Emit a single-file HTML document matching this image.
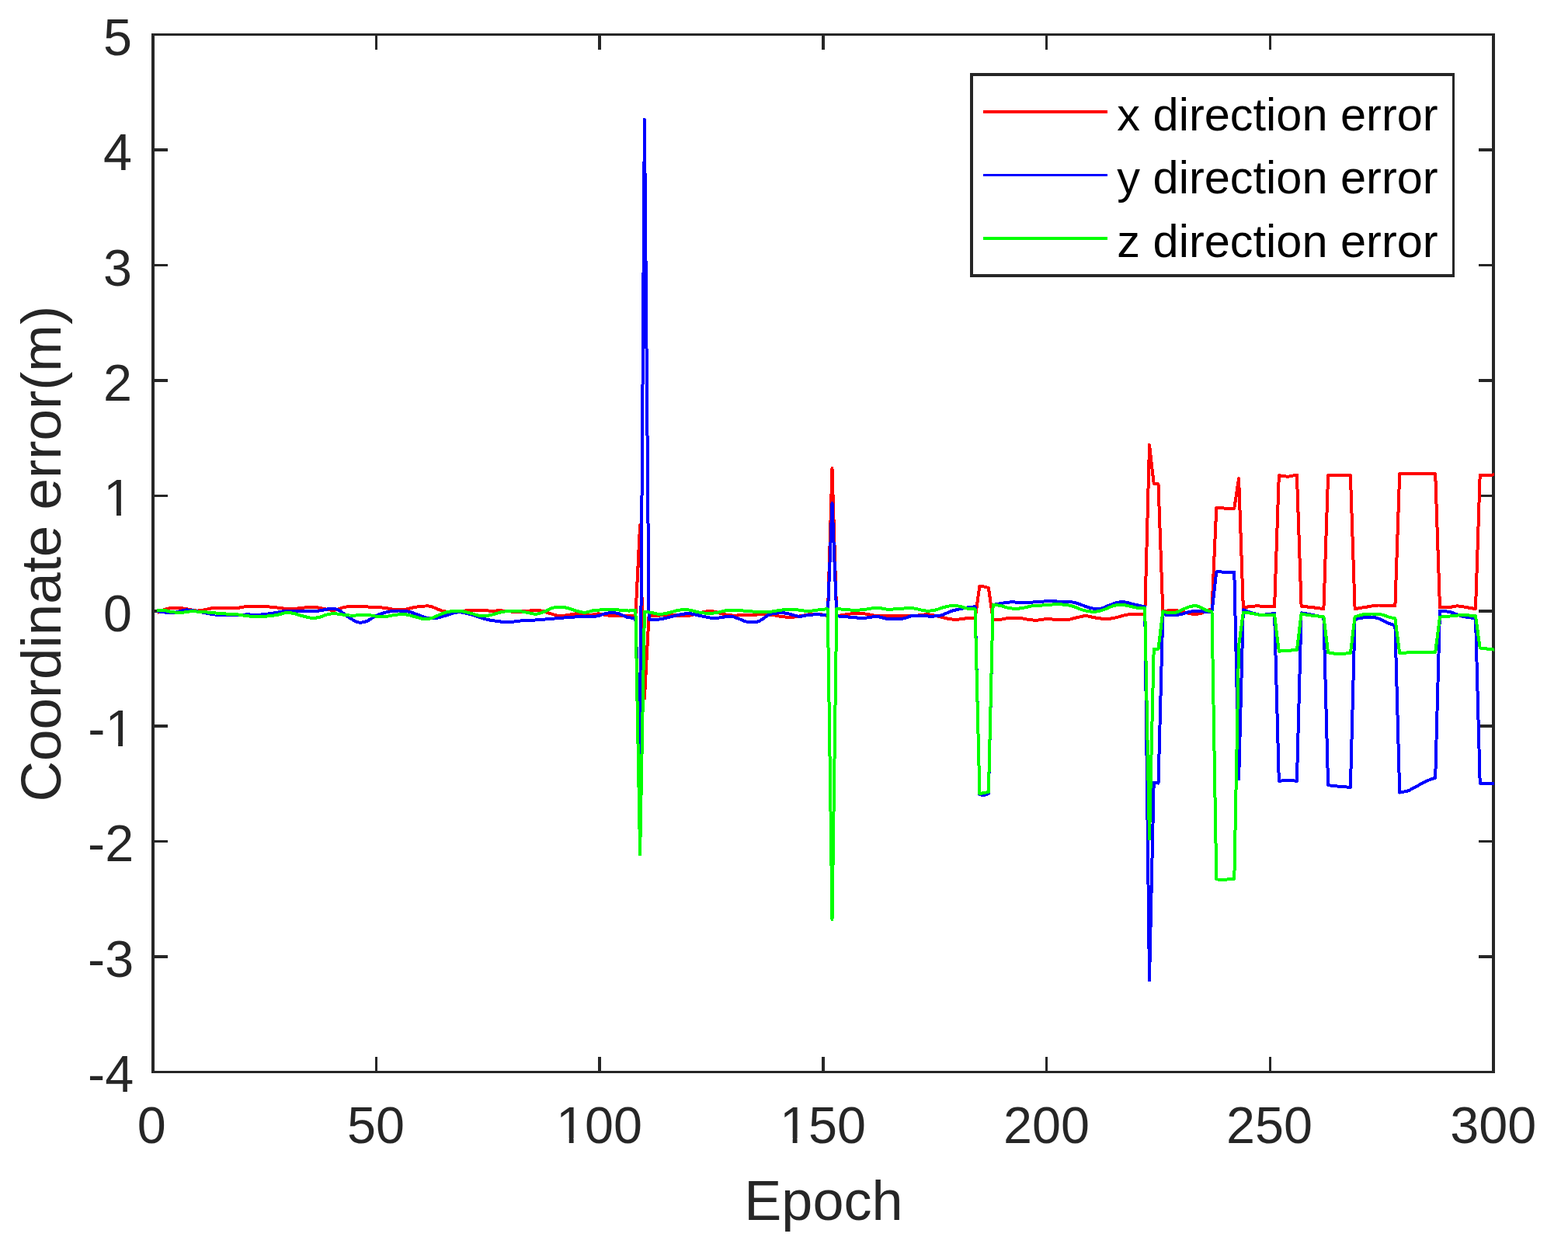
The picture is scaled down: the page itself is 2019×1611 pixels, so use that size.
<!DOCTYPE html>
<html lang="en">
<head>
<meta charset="utf-8">
<title>Coordinate error per epoch</title>
<style>
html,body{margin:0;padding:0;background:#fff;}
body{width:2019px;height:1611px;overflow:hidden;}
svg{display:block;}
text{font-family:"Liberation Sans",sans-serif;}
.t{font-size:66.5px;fill:#262626;}
.l{font-size:72px;fill:#262626;}
.yl{font-size:72.75px;fill:#262626;}
.g{font-size:59.5px;fill:#000;}
.m{fill:#fff;}
.ax rect{fill:#262626;}
.d polyline{fill:none;stroke-width:4;stroke-linejoin:round;stroke-linecap:butt;}
</style>
</head>
<body>
<svg width="2019" height="1611" viewBox="0 0 2019 1611" role="img" aria-label="Coordinate error versus epoch">
<rect x="0" y="0" width="2019" height="1611" fill="#fff"/>
<!-- axes box and tick marks -->
<g class="ax" shape-rendering="crispEdges">
<rect x="195" y="43" width="1730" height="3"/>
<rect x="195" y="1379" width="1730" height="3"/>
<rect x="195" y="43" width="4" height="1339"/>
<rect x="1921" y="43" width="4" height="1339"/>
<rect x="483" y="1361" width="3" height="18"/>
<rect x="483" y="46" width="3" height="18"/>
<rect x="770" y="1361" width="4" height="18"/>
<rect x="770" y="46" width="4" height="18"/>
<rect x="1058" y="1361" width="4" height="18"/>
<rect x="1058" y="46" width="4" height="18"/>
<rect x="1346" y="1361" width="3" height="18"/>
<rect x="1346" y="46" width="3" height="18"/>
<rect x="1634" y="1361" width="3" height="18"/>
<rect x="1634" y="46" width="3" height="18"/>
<rect x="199" y="191" width="17" height="4"/>
<rect x="1904" y="191" width="17" height="4"/>
<rect x="199" y="340" width="17" height="3"/>
<rect x="1904" y="340" width="17" height="3"/>
<rect x="199" y="488" width="17" height="4"/>
<rect x="1904" y="488" width="17" height="4"/>
<rect x="199" y="637" width="17" height="3"/>
<rect x="1904" y="637" width="17" height="3"/>
<rect x="199" y="785" width="17" height="4"/>
<rect x="1904" y="785" width="17" height="4"/>
<rect x="199" y="933" width="17" height="4"/>
<rect x="1904" y="933" width="17" height="4"/>
<rect x="199" y="1082" width="17" height="3"/>
<rect x="1904" y="1082" width="17" height="3"/>
<rect x="199" y="1230" width="17" height="4"/>
<rect x="1904" y="1230" width="17" height="4"/>
</g>
<!-- data series: x (red), y (blue), z (green) -->
<g class="d" shape-rendering="crispEdges">
<polyline points="202.5,789.2 204.4,788.2 206.3,787.3 208.3,786.3 210.3,785.5 212.3,784.7 214.1,784.2 216.0,783.8 217.9,783.4 219.7,783.1 221.6,782.9 223.4,782.8 225.3,782.8 227.1,782.8 229.0,782.8 230.9,782.9 232.7,783.0 234.6,783.3 236.6,783.6 238.5,783.9 240.5,784.3 242.5,784.7 244.5,785.1 246.5,785.5 248.7,785.8 250.9,786.2 253.2,786.5 255.4,786.5 257.6,786.3 259.8,785.9 262.1,785.5 264.3,785.0 266.3,784.6 268.3,784.2 270.2,783.8 272.2,783.4 274.2,783.0 276.2,782.8 278.2,782.7 280.1,782.6 282.1,782.6 284.1,782.6 286.1,782.7 288.1,782.7 290.0,782.8 292.0,782.8 294.0,782.8 296.0,782.8 298.0,782.9 300.0,782.9 301.9,782.9 303.9,782.9 305.9,782.8 307.9,782.6 309.9,782.3 311.8,781.9 313.8,781.5 315.8,781.2 317.8,781.0 319.9,780.9 321.9,780.9 324.0,780.8 326.1,780.8 328.2,780.8 330.3,780.8 332.3,780.9 334.4,780.9 336.5,781.0 338.6,781.0 340.7,781.1 342.8,781.2 345.0,781.3 347.1,781.5 349.2,781.7 351.3,781.9 353.4,782.1 355.4,782.3 357.4,782.6 359.4,782.9 361.4,783.2 363.4,783.4 365.3,783.5 367.3,783.6 369.3,783.7 371.3,783.8 373.3,783.8 375.2,783.8 377.2,783.8 379.2,783.7 381.2,783.6 383.2,783.5 385.3,783.4 387.4,783.1 389.5,782.8 391.7,782.5 393.8,782.2 395.9,781.9 398.0,781.8 400.3,781.7 402.5,781.7 404.7,781.8 406.9,782.1 408.9,782.4 410.9,782.7 412.9,783.1 414.9,783.5 416.8,783.9 418.8,784.3 420.8,784.6 422.8,785.0 424.8,785.4 426.8,785.7 428.7,785.8 430.7,785.8 432.7,785.4 434.7,784.8 436.7,784.1 438.6,783.3 440.6,782.6 442.6,782.1 444.6,781.7 446.6,781.4 448.5,781.2 450.5,781.1 452.5,781.0 454.5,780.9 456.5,780.8 458.4,780.8 460.4,780.7 462.4,780.8 464.4,780.8 466.4,780.9 468.4,781.0 470.3,781.1 472.3,781.3 474.3,781.5 476.3,781.6 478.3,781.8 480.0,781.8 482.1,781.9 484.2,782.0 486.4,782.1 488.5,782.3 490.6,782.4 492.7,782.6 494.9,782.8 496.8,783.1 498.8,783.4 500.8,783.8 502.8,784.2 504.8,784.5 506.7,784.7 508.9,784.9 511.0,785.0 513.1,785.0 515.2,785.1 517.4,785.0 519.5,784.9 521.6,784.7 523.6,784.4 525.6,784.0 527.5,783.5 529.5,783.0 531.5,782.5 533.5,782.1 535.5,781.7 537.5,781.4 539.4,781.1 541.4,780.9 543.4,780.7 545.4,780.6 547.6,780.5 549.8,780.4 552.1,780.5 554.3,780.9 556.5,781.5 558.8,782.4 561.0,783.4 563.2,784.3 565.4,785.1 567.7,786.0 569.9,786.8 572.1,787.3 574.2,787.6 576.4,787.8 578.5,787.9 580.6,788.0 582.7,788.1 584.9,788.0 587.0,788.0 589.0,787.9 590.9,787.7 592.9,787.4 594.9,787.1 596.9,786.8 598.9,786.5 600.9,786.3 602.8,786.1 604.8,785.8 606.8,785.7 608.8,785.5 610.8,785.5 612.7,785.5 614.7,785.6 616.7,785.7 618.7,785.9 620.7,786.0 622.6,786.2 624.6,786.3 626.6,786.4 628.6,786.5 630.7,786.6 632.7,786.6 634.8,786.5 636.9,786.5 639.0,786.5 641.1,786.4 643.2,786.4 645.2,786.4 647.3,786.5 649.4,786.5 651.5,786.7 653.6,786.9 655.8,787.2 657.9,787.5 660.0,787.7 662.1,787.9 664.2,788.0 666.2,788.0 668.2,787.8 670.2,787.7 672.2,787.5 674.2,787.3 676.1,787.0 678.1,786.8 680.1,786.6 682.1,786.5 684.2,786.4 686.3,786.3 688.4,786.2 690.6,786.2 692.7,786.2 694.8,786.3 696.9,786.5 698.9,786.9 700.9,787.5 702.9,788.2 704.9,788.9 706.8,789.6 708.8,790.2 710.8,790.8 712.8,791.4 714.8,792.0 716.8,792.6 718.7,793.0 720.7,793.2 722.7,793.2 724.7,793.0 726.7,792.7 728.6,792.4 730.6,792.0 732.6,791.7 734.6,791.4 736.6,791.1 738.5,790.8 740.5,790.5 742.5,790.3 744.5,790.2 746.5,790.3 748.4,790.6 750.4,790.9 752.4,791.3 754.4,791.6 756.4,791.7 758.4,791.7 760.3,791.7 762.3,791.6 764.3,791.4 766.3,791.2 768.3,791.0 770.0,790.2 772.1,790.5 774.2,790.9 776.4,791.3 778.5,791.7 780.6,792.1 782.7,792.5 784.9,792.8 787.0,792.9 789.1,793.1 791.2,793.2 793.3,793.2 795.5,793.2 797.6,793.2 799.7,793.2 801.8,793.2 803.9,793.1 805.9,793.0 808.0,793.0 810.1,792.9 812.1,792.8 814.2,792.7 816.3,792.6 818.4,792.5 824.1,676.1 829.9,899.5 835.6,792.5 837.7,792.5 839.8,792.5 841.9,792.5 844.0,792.5 846.1,792.5 848.1,792.5 850.2,792.5 852.4,792.4 854.5,792.2 856.6,792.1 858.7,791.9 860.9,791.8 863.0,791.7 865.1,791.7 867.1,791.9 869.1,792.1 871.0,792.5 873.0,792.8 875.0,793.1 877.0,793.2 879.0,793.2 880.9,793.2 882.9,793.1 884.9,793.0 886.9,792.7 888.9,792.5 890.9,792.1 892.8,791.6 894.8,791.1 896.8,790.5 898.8,790.0 900.8,789.5 902.8,789.0 904.9,788.4 907.0,788.0 909.1,787.5 911.2,787.3 913.4,787.1 915.6,787.2 917.8,787.4 920.1,787.7 922.2,788.2 924.2,788.8 926.3,789.5 928.4,790.1 930.5,790.7 932.5,791.1 934.4,791.5 936.4,791.8 938.4,792.1 940.4,792.3 942.4,792.5 944.5,792.5 946.6,792.5 948.7,792.5 950.9,792.4 953.0,792.3 955.1,792.2 957.2,792.2 959.3,792.1 961.5,792.1 963.6,792.0 965.7,791.9 967.8,791.9 970.0,791.8 972.1,791.7 974.1,791.6 976.0,791.4 978.0,791.3 980.0,791.1 982.0,791.0 984.0,791.0 985.9,791.1 987.9,791.2 989.9,791.4 991.9,791.6 993.9,791.9 995.9,792.2 997.8,792.5 999.8,792.9 1001.8,793.3 1003.8,793.6 1005.8,794.0 1007.7,794.2 1009.7,794.4 1011.7,794.6 1013.7,794.7 1015.7,794.7 1017.6,794.7 1019.6,794.7 1021.6,794.6 1023.6,794.4 1025.6,794.1 1027.6,793.8 1029.5,793.5 1031.5,793.2 1033.5,792.9 1035.5,792.4 1037.5,792.0 1039.4,791.6 1041.4,791.2 1043.4,791.0 1045.4,790.8 1047.4,790.7 1049.3,790.7 1051.3,790.7 1053.3,790.8 1055.3,791.0 1057.4,791.3 1059.5,791.7 1061.6,792.2 1063.7,792.7 1065.8,793.2 1071.5,603.1 1077.3,793.2 1079.2,792.9 1081.0,792.6 1082.9,792.4 1084.8,792.1 1086.7,791.8 1088.6,791.5 1090.5,791.3 1092.4,791.0 1094.3,790.7 1096.3,790.3 1098.2,790.0 1100.1,789.8 1102.0,789.6 1103.9,789.5 1105.8,789.5 1107.7,789.7 1109.6,789.8 1111.5,790.1 1113.4,790.4 1115.4,790.7 1117.3,791.0 1119.2,791.3 1121.2,791.8 1123.2,792.2 1125.2,792.6 1127.2,793.0 1129.2,793.2 1131.3,793.3 1133.4,793.3 1135.5,793.2 1137.6,793.1 1139.8,792.9 1141.9,792.8 1144.0,792.8 1146.0,792.7 1148.0,792.7 1150.0,792.7 1151.9,792.6 1153.9,792.6 1155.9,792.6 1157.9,792.6 1159.9,792.5 1161.8,792.5 1163.8,792.5 1165.8,792.5 1167.8,792.5 1169.9,792.5 1172.0,792.5 1174.2,792.5 1176.3,792.5 1178.4,792.6 1180.5,792.5 1182.6,792.5 1184.6,792.3 1186.6,792.0 1188.6,791.7 1190.6,791.4 1192.6,791.3 1194.5,791.3 1196.7,791.5 1198.8,791.7 1200.9,792.1 1203.0,792.5 1205.1,793.0 1207.3,793.5 1209.4,793.9 1211.4,794.4 1213.4,795.0 1215.3,795.5 1217.3,796.1 1219.3,796.5 1221.3,796.9 1223.3,797.2 1225.2,797.4 1227.2,797.6 1229.2,797.7 1231.2,797.7 1233.2,797.7 1235.1,797.5 1237.1,797.3 1239.1,797.0 1241.1,796.7 1243.1,796.4 1245.1,796.2 1247.2,796.1 1249.3,796.1 1251.4,796.1 1253.5,796.2 1255.6,796.2 1261.4,754.8 1267.1,755.5 1272.9,757.0 1278.6,798.1 1280.8,798.0 1282.9,798.0 1285.0,798.0 1287.2,797.9 1289.3,797.7 1291.4,797.3 1293.5,796.9 1295.6,796.4 1297.6,796.0 1299.7,795.7 1301.7,795.6 1303.7,795.5 1305.7,795.5 1307.6,795.5 1309.6,795.6 1311.6,795.7 1313.6,796.0 1315.6,796.3 1317.5,796.6 1319.5,797.0 1321.5,797.4 1323.5,797.7 1325.6,798.0 1327.7,798.2 1329.7,798.5 1331.8,798.7 1333.9,798.7 1335.8,798.6 1337.7,798.4 1339.6,798.1 1341.5,797.9 1343.4,797.6 1345.4,797.4 1347.3,797.2 1349.2,797.2 1351.2,797.2 1353.2,797.3 1355.2,797.5 1357.2,797.6 1359.2,797.7 1361.3,797.8 1363.4,797.9 1365.5,798.0 1367.6,798.2 1369.8,798.2 1371.9,798.2 1374.0,798.1 1376.0,797.9 1378.0,797.5 1380.0,797.0 1381.9,796.4 1383.9,795.9 1385.9,795.4 1387.9,795.0 1389.9,794.5 1391.8,794.0 1393.8,793.6 1395.8,793.3 1397.8,793.2 1399.8,793.3 1401.7,793.7 1403.7,794.1 1405.7,794.6 1407.7,795.1 1409.7,795.4 1411.8,795.7 1413.9,796.0 1416.0,796.3 1418.2,796.6 1420.3,796.7 1422.4,796.9 1424.5,796.9 1426.5,796.9 1428.5,796.7 1430.5,796.5 1432.5,796.2 1434.4,795.8 1436.4,795.4 1438.4,795.0 1440.4,794.4 1442.4,793.8 1444.3,793.2 1446.3,792.6 1448.3,792.2 1450.2,791.8 1452.1,791.5 1454.0,791.3 1455.9,791.0 1457.9,790.9 1459.8,790.7 1461.7,790.7 1463.8,790.7 1465.9,790.8 1468.0,791.0 1470.1,791.3 1472.1,791.5 1474.2,791.7 1480.0,573.0 1485.7,622.8 1491.5,623.4 1497.3,787.3 1499.4,787.0 1501.4,786.8 1503.5,786.5 1505.6,786.3 1507.7,786.2 1509.7,786.2 1511.7,786.2 1513.7,786.3 1515.7,786.4 1517.6,786.6 1519.6,786.8 1521.9,787.3 1524.1,787.9 1526.3,788.6 1528.5,789.2 1530.8,789.8 1533.0,790.3 1535.2,790.8 1537.5,791.0 1539.7,791.0 1541.9,790.7 1544.1,790.4 1546.4,789.8 1548.6,789.0 1550.8,787.9 1553.1,786.8 1555.3,785.8 1557.0,785.2 1558.8,784.7 1560.5,784.3 1566.3,653.9 1577.8,654.6 1583.6,655.3 1589.3,654.6 1595.1,616.0 1600.8,782.1 1602.7,781.9 1604.7,781.7 1606.6,781.5 1608.5,781.2 1610.4,781.0 1612.4,780.8 1614.3,780.6 1616.2,780.5 1618.1,780.4 1620.2,780.4 1622.2,780.5 1624.3,780.7 1626.3,780.9 1628.4,781.1 1630.4,781.3 1632.6,781.3 1634.7,781.3 1636.8,781.3 1639.0,781.3 1641.1,781.3 1646.8,612.2 1658.3,613.8 1669.9,611.6 1675.6,780.8 1677.6,780.9 1679.5,781.1 1681.5,781.3 1683.5,781.5 1685.4,781.7 1687.4,781.9 1689.4,782.1 1691.2,782.3 1693.1,782.6 1695.0,782.8 1696.9,783.1 1698.7,783.3 1700.6,783.6 1702.5,783.9 1704.4,784.1 1710.1,612.3 1738.9,612.3 1744.6,784.1 1746.5,783.8 1748.5,783.5 1750.4,783.2 1752.3,782.8 1754.2,782.5 1756.1,782.2 1758.0,781.9 1759.9,781.6 1761.8,781.3 1763.7,780.9 1765.7,780.6 1767.7,780.2 1769.6,779.9 1771.6,779.7 1773.6,779.6 1775.6,779.5 1777.7,779.5 1779.8,779.5 1781.9,779.6 1784.0,779.6 1786.0,779.7 1788.1,779.8 1790.2,779.9 1792.3,780.0 1794.3,780.0 1796.4,780.1 1802.2,610.1 1848.2,610.1 1854.0,782.4 1855.9,782.4 1857.9,782.3 1859.9,782.2 1861.9,782.1 1863.9,782.0 1865.9,781.9 1867.9,781.8 1869.7,781.5 1871.6,781.2 1873.4,780.8 1875.3,780.5 1877.1,780.4 1879.3,780.6 1881.5,780.9 1883.7,781.3 1885.9,781.7 1888.1,782.1 1890.1,782.4 1892.0,782.8 1894.0,783.1 1896.0,783.4 1898.0,783.8 1900.0,784.1 1905.7,611.9 1917.2,611.9 1923.0,611.4 1924.0,611.4" stroke="#ff0000"/>
<polyline points="201.9,787.3 203.7,787.4 205.6,787.6 207.5,787.8 209.3,788.0 211.4,788.3 213.5,788.7 215.6,789.1 217.6,789.4 219.7,789.5 221.9,789.3 224.2,789.0 226.4,788.5 228.6,788.0 230.7,787.5 232.8,786.9 234.9,786.3 237.0,785.8 239.0,785.5 241.1,785.4 243.2,785.6 245.3,785.9 247.4,786.2 249.4,786.5 251.4,786.8 253.4,787.2 255.4,787.6 257.4,788.0 259.3,788.4 261.3,788.7 263.3,789.1 265.3,789.5 267.3,790.0 269.2,790.3 271.2,790.7 273.2,791.0 275.3,791.2 277.5,791.5 279.6,791.7 281.7,791.8 283.8,792.0 285.9,792.1 288.1,792.2 290.0,792.2 292.0,792.3 294.0,792.3 296.0,792.3 298.0,792.3 300.0,792.3 301.9,792.3 303.9,792.2 305.9,792.2 307.9,792.1 309.9,791.9 311.8,791.8 313.8,791.6 315.8,791.5 317.8,791.4 319.9,791.4 322.0,791.5 324.2,791.6 326.3,791.7 328.4,791.8 330.5,791.8 332.6,791.7 334.6,791.6 336.6,791.5 338.6,791.3 340.6,791.1 342.6,790.8 344.5,790.6 346.5,790.3 348.5,790.1 350.5,789.8 352.6,789.5 354.7,789.1 356.8,788.7 359.0,788.3 361.1,787.9 363.2,787.5 365.3,787.3 367.3,787.1 369.3,786.9 371.3,786.8 373.3,786.7 375.2,786.6 377.2,786.6 379.2,786.5 381.2,786.5 383.2,786.5 385.3,786.6 387.4,786.7 389.5,786.8 391.7,787.0 393.8,787.1 395.9,787.2 398.0,787.3 400.1,787.2 402.3,787.1 404.4,787.0 406.5,786.9 408.6,786.7 410.8,786.5 412.9,786.2 414.8,785.9 416.7,785.5 418.6,785.1 420.5,784.7 422.4,784.3 424.3,784.0 426.3,783.8 428.5,783.8 430.7,784.0 432.9,784.5 435.2,785.3 437.3,786.4 439.3,787.8 441.4,789.4 443.5,791.0 445.6,792.5 447.7,793.9 449.7,795.3 451.8,796.7 453.9,798.0 456.0,799.2 457.8,800.1 459.7,800.9 461.5,801.4 463.4,801.7 465.6,801.6 467.9,801.3 470.1,800.7 472.3,799.9 474.5,798.8 476.8,797.5 479.0,796.0 481.2,794.7 483.2,793.7 485.1,792.7 487.0,791.8 488.9,791.0 490.9,790.3 492.9,789.6 494.9,789.1 496.8,788.5 498.8,788.1 500.8,787.7 502.9,787.4 505.0,787.1 507.2,786.9 509.3,786.7 511.4,786.6 513.5,786.5 515.7,786.5 517.6,786.6 519.6,786.7 521.6,786.9 523.6,787.2 525.6,787.6 527.5,788.0 529.5,788.5 531.5,789.2 533.5,789.9 535.5,790.7 537.5,791.4 539.4,792.2 541.7,793.0 543.9,794.0 546.1,794.8 548.4,795.4 550.3,795.8 552.3,796.1 554.3,796.2 556.3,796.3 558.3,796.3 560.2,796.2 562.2,795.9 564.2,795.5 566.2,795.0 568.2,794.4 570.1,793.8 572.1,793.2 574.1,792.6 576.1,792.0 578.1,791.3 580.0,790.6 582.0,790.0 584.0,789.5 586.2,789.0 588.5,788.5 590.7,788.3 592.9,788.3 595.0,788.6 597.2,788.9 599.3,789.4 601.4,789.9 603.5,790.5 605.7,791.1 607.8,791.7 609.9,792.4 612.0,793.1 614.2,793.8 616.3,794.6 618.4,795.3 620.5,796.0 622.6,796.6 624.8,797.2 626.9,797.7 629.0,798.1 631.1,798.6 633.3,798.9 635.4,799.3 637.5,799.6 639.5,799.9 641.5,800.1 643.4,800.4 645.4,800.6 647.4,800.8 649.4,800.9 651.4,801.0 653.4,801.1 655.3,801.1 657.3,801.0 659.3,800.9 661.3,800.6 663.3,800.4 665.2,800.1 667.2,799.8 669.2,799.6 671.2,799.3 673.2,799.2 675.1,799.0 677.1,798.9 679.1,798.8 681.1,798.8 683.1,798.7 685.1,798.7 687.0,798.6 689.0,798.5 691.0,798.4 693.0,798.3 695.0,798.1 696.9,798.0 698.9,797.8 700.9,797.6 702.9,797.4 704.9,797.3 706.8,797.1 708.8,796.9 710.8,796.8 712.8,796.6 714.8,796.4 716.8,796.2 718.7,796.1 720.7,795.9 722.7,795.7 724.7,795.6 726.7,795.4 728.6,795.3 730.6,795.1 732.6,795.0 734.6,794.9 736.6,794.7 738.5,794.6 740.5,794.5 742.5,794.4 744.5,794.2 746.5,794.2 748.4,794.1 750.4,794.0 752.4,794.0 754.4,793.9 756.4,793.8 758.4,793.8 760.3,793.7 762.3,793.7 764.2,793.6 766.2,793.6 768.1,793.5 770.0,793.2 772.2,792.6 774.5,791.7 776.7,790.9 778.9,790.2 781.1,789.8 783.4,789.5 785.6,789.3 787.8,789.2 790.1,789.2 792.3,789.4 794.5,789.7 796.7,790.2 798.8,791.0 800.9,792.0 803.0,793.0 805.1,794.0 807.1,794.7 809.0,795.1 810.9,795.4 812.8,795.6 814.6,795.8 816.5,796.0 818.4,796.2 824.1,983.7 829.9,153.9 835.6,797.7 837.6,797.7 839.5,797.7 841.4,797.8 843.4,797.8 845.3,797.8 847.3,797.7 849.5,797.4 851.7,797.1 854.0,796.6 856.2,796.2 858.2,795.7 860.1,795.2 862.1,794.7 864.1,794.2 866.1,793.7 868.1,793.2 870.0,792.7 872.0,792.3 874.0,791.8 876.0,791.4 878.0,791.0 880.0,790.7 882.2,790.4 884.4,790.2 886.6,790.1 888.9,790.2 891.1,790.6 893.3,791.1 895.6,791.6 897.8,792.2 899.8,792.6 901.7,793.0 903.7,793.5 905.7,793.9 907.7,794.3 909.7,794.7 911.8,795.1 913.8,795.5 915.9,795.8 918.0,796.1 920.1,796.2 922.2,796.1 924.2,795.8 926.3,795.4 928.4,795.0 930.5,794.7 932.5,794.5 934.4,794.2 936.4,794.0 938.4,793.9 940.4,793.8 942.4,793.9 944.6,794.4 946.8,795.2 949.0,796.1 951.3,796.9 953.4,797.7 955.4,798.6 957.5,799.4 959.6,800.2 961.7,800.6 963.6,800.9 965.5,801.1 967.4,801.2 969.3,801.2 971.2,801.1 973.1,800.9 975.1,800.6 976.9,800.1 978.8,799.2 980.6,798.1 982.5,796.9 984.3,795.6 986.2,794.2 988.1,792.8 989.9,791.7 992.1,790.9 994.4,790.4 996.6,790.1 998.8,789.8 1001.1,789.5 1003.3,789.3 1005.5,789.2 1007.7,789.2 1010.0,789.4 1012.2,789.8 1014.4,790.2 1016.7,790.7 1018.6,791.2 1020.6,791.8 1022.6,792.4 1024.6,793.0 1026.6,793.4 1028.5,793.7 1030.5,793.7 1032.5,793.5 1034.5,793.2 1036.5,792.8 1038.4,792.4 1040.4,792.2 1042.4,792.0 1044.4,791.7 1046.4,791.6 1048.4,791.4 1050.3,791.3 1052.3,791.3 1054.2,791.3 1056.2,791.5 1058.1,791.6 1060.0,791.8 1061.9,792.1 1063.8,792.3 1065.8,792.5 1071.5,648.1 1077.3,793.2 1079.2,793.4 1081.2,793.6 1083.1,793.7 1085.1,793.9 1087.1,794.1 1089.0,794.2 1090.9,794.4 1092.9,794.6 1094.8,794.8 1096.7,795.0 1098.6,795.2 1100.5,795.3 1102.4,795.4 1104.4,795.6 1106.4,795.7 1108.4,795.8 1110.3,795.8 1112.3,795.8 1114.3,795.7 1116.4,795.5 1118.5,795.2 1120.7,794.9 1122.8,794.5 1124.9,794.2 1127.0,794.0 1129.2,793.9 1131.1,794.2 1133.1,794.6 1135.1,795.2 1137.1,795.7 1139.1,796.3 1141.0,796.6 1143.0,796.8 1145.0,796.9 1147.0,797.0 1149.0,797.0 1150.9,797.0 1152.9,796.9 1154.9,796.9 1156.9,796.9 1158.9,796.8 1160.9,796.7 1162.8,796.5 1164.8,796.2 1167.0,795.5 1169.3,794.6 1171.5,793.8 1173.7,793.2 1175.9,793.0 1178.0,792.9 1180.1,792.9 1182.2,793.0 1184.3,793.1 1186.5,793.1 1188.6,793.2 1190.6,793.3 1192.6,793.4 1194.5,793.5 1196.5,793.6 1198.5,793.7 1200.5,793.7 1202.5,793.6 1204.4,793.4 1206.4,793.2 1208.4,793.0 1210.4,792.6 1212.4,792.2 1214.3,791.5 1216.3,790.7 1218.3,789.8 1220.3,788.9 1222.3,788.0 1224.2,787.3 1226.2,786.6 1228.2,786.1 1230.2,785.6 1232.2,785.2 1234.2,784.7 1236.1,784.3 1238.1,783.9 1240.1,783.5 1242.1,783.1 1244.1,782.7 1246.0,782.4 1248.0,782.1 1249.9,781.8 1251.8,781.6 1253.7,781.5 1255.6,781.3 1261.4,1023.2 1267.1,1024.2 1272.9,1022.0 1278.6,779.1 1280.8,778.6 1282.9,778.1 1285.0,777.7 1287.2,777.2 1289.3,776.9 1291.2,776.6 1293.1,776.3 1295.0,776.0 1297.0,775.8 1298.9,775.6 1300.8,775.4 1302.7,775.4 1304.8,775.4 1306.9,775.5 1309.1,775.8 1311.2,776.0 1313.3,776.2 1315.4,776.4 1317.5,776.4 1319.7,776.4 1321.8,776.3 1323.9,776.1 1326.0,775.9 1328.2,775.7 1330.3,775.5 1332.4,775.4 1334.5,775.2 1336.7,775.1 1338.8,774.9 1340.9,774.7 1343.0,774.6 1345.1,774.4 1347.3,774.3 1349.2,774.3 1351.2,774.2 1353.2,774.2 1355.2,774.2 1357.2,774.3 1359.2,774.3 1361.1,774.5 1363.1,774.6 1365.1,774.8 1367.1,775.0 1369.1,775.2 1371.0,775.4 1373.0,775.4 1375.0,775.4 1377.0,775.4 1379.0,775.4 1380.9,775.5 1382.9,775.8 1384.9,776.3 1386.9,776.9 1388.9,777.6 1390.9,778.4 1392.8,779.1 1394.8,779.8 1396.8,780.5 1398.8,781.2 1400.8,781.9 1402.7,782.5 1404.7,783.1 1406.7,783.5 1408.9,784.0 1411.2,784.4 1413.4,784.5 1415.6,784.3 1417.6,783.8 1419.6,783.1 1421.6,782.3 1423.5,781.5 1425.5,780.6 1427.5,779.8 1429.6,779.0 1431.7,778.2 1433.7,777.4 1435.8,776.7 1437.9,776.1 1440.0,775.7 1442.1,775.4 1444.1,775.3 1446.2,775.2 1448.3,775.4 1450.3,775.7 1452.3,776.1 1454.2,776.7 1456.2,777.3 1458.2,777.8 1460.2,778.3 1462.2,778.8 1464.2,779.2 1466.2,779.7 1468.2,780.1 1470.2,780.5 1472.2,780.9 1474.2,781.3 1480.0,1262.3 1485.7,1007.5 1491.5,1008.6 1497.3,791.0 1499.4,791.3 1501.4,791.7 1503.5,792.1 1505.6,792.3 1507.7,792.5 1509.7,792.4 1511.7,792.3 1513.7,792.2 1515.7,791.9 1517.6,791.6 1519.6,791.3 1521.6,790.8 1523.6,790.3 1525.6,789.7 1527.6,789.0 1529.5,788.5 1531.5,788.0 1533.5,787.6 1535.5,787.3 1537.5,787.0 1539.4,786.7 1541.4,786.6 1543.4,786.5 1545.6,786.7 1547.9,787.2 1550.1,787.7 1552.3,788.0 1554.4,788.0 1556.4,787.8 1558.5,787.5 1560.5,787.3 1566.3,736.3 1589.3,737.0 1595.1,1003.5 1600.8,785.1 1602.7,785.9 1604.7,786.7 1606.6,787.5 1608.5,788.2 1610.6,788.9 1612.7,789.5 1614.8,790.1 1616.9,790.7 1619.2,791.2 1621.4,791.7 1623.7,791.9 1625.8,791.8 1627.9,791.7 1630.0,791.4 1632.1,791.2 1634.3,790.9 1636.6,790.6 1638.8,790.3 1641.1,790.0 1646.8,1005.7 1658.3,1004.9 1669.9,1005.7 1675.6,789.2 1677.6,789.6 1679.5,789.9 1681.5,790.3 1683.5,790.7 1685.4,791.1 1687.4,791.5 1689.4,791.9 1691.2,792.2 1693.1,792.6 1695.0,792.9 1696.9,793.3 1698.7,793.7 1700.6,794.0 1702.5,794.4 1704.4,794.7 1710.1,1011.2 1727.4,1013.1 1738.9,1013.8 1744.6,797.3 1746.7,796.9 1748.7,796.5 1750.7,796.2 1752.7,795.8 1754.7,795.5 1756.7,795.2 1758.7,795.0 1760.8,794.8 1762.8,794.7 1764.8,794.6 1766.8,794.7 1768.8,795.0 1770.9,795.4 1772.9,795.9 1774.9,796.5 1776.9,797.3 1778.9,798.1 1781.0,799.2 1783.0,800.3 1785.0,801.4 1787.0,802.3 1788.9,803.0 1790.8,803.6 1792.7,804.2 1794.5,804.8 1796.4,805.3 1802.2,1020.7 1813.7,1018.3 1836.7,1005.7 1848.2,1001.5 1854.0,786.8 1856.0,787.0 1858.0,787.1 1860.1,787.2 1862.1,787.4 1864.1,787.6 1866.2,788.0 1868.3,788.5 1870.4,789.2 1872.5,790.0 1874.6,790.7 1876.7,791.5 1878.8,792.3 1880.9,793.0 1883.0,793.6 1885.1,794.0 1887.3,794.5 1889.4,794.8 1891.5,795.2 1893.6,795.5 1895.7,795.8 1897.9,796.1 1900.0,796.4 1905.7,1008.6 1923.0,1009.4 1924.0,1009.4" stroke="#0000ff"/>
<polyline points="201.9,786.2 204.0,786.2 206.0,786.1 208.1,786.1 210.2,786.1 212.3,786.2 214.4,786.5 216.4,787.0 218.5,787.5 220.6,788.0 222.7,788.3 224.7,788.5 226.7,788.7 228.6,788.8 230.6,788.8 232.6,788.8 234.6,788.7 236.6,788.6 238.5,788.3 240.5,788.0 242.5,787.7 244.5,787.4 246.5,787.3 248.7,787.2 250.9,787.4 253.2,787.5 255.4,787.7 257.5,787.8 259.6,788.0 261.7,788.1 263.9,788.3 266.0,788.4 268.1,788.6 270.2,788.7 272.4,788.9 274.5,789.2 276.6,789.4 278.7,789.6 280.9,789.9 283.0,790.1 285.1,790.2 287.1,790.3 289.1,790.4 291.0,790.5 293.0,790.5 295.0,790.6 297.0,790.6 299.0,790.7 300.9,790.8 302.9,791.0 305.0,791.2 307.2,791.5 309.3,791.9 311.4,792.3 313.5,792.6 315.7,793.0 317.8,793.2 319.9,793.4 322.0,793.6 324.2,793.7 326.3,793.8 328.4,793.9 330.5,793.9 332.6,793.9 334.8,793.9 336.9,793.9 339.0,793.8 341.1,793.7 343.3,793.6 345.4,793.4 347.5,793.2 349.5,793.0 351.5,792.7 353.4,792.4 355.4,792.0 357.4,791.7 359.4,791.3 361.6,790.7 363.8,790.1 366.1,789.5 368.3,789.2 370.5,789.1 372.8,789.2 375.0,789.4 377.2,789.8 379.2,790.2 381.2,790.8 383.2,791.4 385.1,792.1 387.1,792.7 389.1,793.2 391.1,793.7 393.1,794.2 395.1,794.7 397.0,795.1 399.0,795.5 401.0,795.7 403.2,795.8 405.5,795.8 407.7,795.5 409.9,795.1 411.9,794.6 413.9,794.0 415.9,793.2 417.8,792.5 419.8,791.8 421.8,791.3 424.0,790.8 426.3,790.5 428.5,790.3 430.7,790.2 432.7,790.3 434.7,790.6 436.7,790.9 438.6,791.2 440.6,791.5 442.6,791.7 444.6,791.9 446.6,792.2 448.5,792.4 450.5,792.6 452.5,792.7 454.5,792.8 456.5,792.7 458.4,792.5 460.4,792.3 462.4,792.0 464.4,791.8 466.4,791.7 468.4,791.7 470.3,791.8 472.3,791.9 474.3,792.1 476.3,792.3 478.3,792.5 480.0,793.2 482.1,793.4 484.2,793.7 486.4,793.9 488.5,794.1 490.6,794.2 492.7,794.3 494.9,794.2 497.0,794.1 499.1,793.7 501.2,793.3 503.3,792.9 505.5,792.4 507.6,792.0 509.7,791.7 511.7,791.5 513.7,791.3 515.7,791.2 517.6,791.1 519.6,791.1 521.6,791.3 523.6,791.5 525.6,791.9 527.5,792.4 529.5,792.9 531.5,793.5 533.5,793.9 535.4,794.4 537.3,795.0 539.2,795.6 541.1,796.1 543.0,796.6 545.0,797.0 546.9,797.2 548.9,797.2 551.0,797.0 553.1,796.6 555.2,796.1 557.3,795.4 559.2,794.7 561.2,793.8 563.2,792.9 565.2,791.9 567.2,791.0 569.2,790.2 571.1,789.6 573.1,789.0 575.1,788.4 577.1,788.0 579.1,787.6 581.0,787.3 583.0,787.0 585.0,786.9 587.0,786.8 589.0,786.8 590.9,786.8 592.9,787.0 594.9,787.2 596.9,787.6 598.9,788.0 600.9,788.5 602.8,789.0 604.8,789.5 606.9,790.0 609.1,790.6 611.2,791.3 613.3,791.9 615.4,792.5 617.6,792.9 619.7,793.2 621.7,793.3 623.6,793.3 625.6,793.1 627.6,792.9 629.6,792.5 631.6,792.2 633.5,791.7 635.5,791.1 637.5,790.5 639.5,789.9 641.5,789.3 643.4,788.7 645.4,788.3 647.4,788.0 649.4,787.6 651.4,787.3 653.4,787.1 655.3,787.0 657.5,786.9 659.6,786.8 661.7,786.8 663.8,786.9 665.9,787.0 668.1,787.1 670.2,787.3 672.2,787.5 674.2,787.9 676.1,788.3 678.1,788.7 680.1,789.1 682.1,789.5 684.3,789.9 686.5,790.4 688.8,790.7 691.0,790.7 693.2,790.3 695.5,789.7 697.7,788.9 699.9,788.0 701.9,787.2 703.9,786.2 705.9,785.2 707.8,784.3 709.8,783.4 711.8,782.8 713.8,782.4 715.8,782.0 717.7,781.8 719.7,781.7 721.7,781.7 723.7,781.8 725.9,782.0 728.1,782.4 730.4,783.0 732.6,783.5 734.6,784.1 736.6,784.8 738.5,785.4 740.5,786.1 742.5,786.7 744.5,787.3 746.7,787.8 748.9,788.4 751.2,788.7 753.4,788.7 755.4,788.5 757.4,788.0 759.3,787.4 761.3,786.8 763.3,786.2 765.3,785.8 767.6,785.7 770.0,785.8 772.2,785.5 774.5,785.2 776.7,784.9 778.9,784.7 781.0,784.6 783.1,784.6 785.2,784.6 787.2,784.7 789.3,784.7 791.4,784.9 793.5,785.1 795.6,785.3 797.6,785.6 799.7,785.8 801.9,786.0 804.2,786.3 806.4,786.4 808.6,786.5 810.6,786.5 812.5,786.3 814.5,786.1 816.4,785.9 818.4,785.8 824.1,1100.4 829.9,788.0 832.0,788.2 834.1,788.3 836.2,788.5 838.4,788.7 840.6,789.2 842.8,789.8 845.0,790.3 847.3,790.7 849.5,790.8 851.7,790.7 854.0,790.5 856.2,790.2 858.4,789.8 860.6,789.2 862.9,788.6 865.1,788.0 867.3,787.4 869.6,786.8 871.8,786.2 874.0,785.8 875.9,785.5 877.7,785.2 879.6,785.1 881.4,785.0 883.3,785.1 885.2,785.2 887.0,785.5 888.9,785.8 890.9,786.2 892.8,786.7 894.8,787.3 896.8,787.9 898.8,788.3 900.8,788.7 902.7,789.1 904.7,789.3 906.7,789.5 908.7,789.6 910.7,789.7 912.6,789.8 914.9,789.8 917.1,789.7 919.3,789.5 921.6,789.2 923.5,788.8 925.5,788.4 927.5,787.9 929.5,787.4 931.5,786.9 933.4,786.5 935.7,786.1 937.9,785.8 940.1,785.6 942.4,785.5 944.3,785.5 946.3,785.6 948.3,785.7 950.3,785.9 952.3,786.1 954.2,786.2 956.2,786.4 958.2,786.6 960.2,786.7 962.2,786.9 964.2,787.1 966.1,787.3 968.1,787.4 970.1,787.6 972.1,787.7 974.1,787.8 976.0,787.9 978.0,788.0 980.0,788.1 982.0,788.1 984.0,788.2 985.9,788.2 987.9,788.1 989.9,788.0 991.9,787.8 993.9,787.5 995.9,787.2 997.8,786.9 999.8,786.5 1001.8,786.2 1003.8,785.9 1005.8,785.7 1007.7,785.4 1009.7,785.1 1011.7,784.9 1013.7,784.7 1015.9,784.6 1018.1,784.6 1020.4,784.6 1022.6,784.7 1024.6,785.0 1026.6,785.3 1028.5,785.6 1030.5,786.0 1032.5,786.3 1034.5,786.5 1036.5,786.6 1038.4,786.7 1040.4,786.7 1042.4,786.7 1044.4,786.6 1046.4,786.5 1048.4,786.3 1050.3,786.0 1052.3,785.7 1054.3,785.3 1056.3,785.0 1058.3,784.7 1060.1,784.6 1062.0,784.5 1063.9,784.4 1065.8,784.3 1071.5,1184.3 1077.3,783.8 1079.2,784.1 1081.2,784.3 1083.1,784.5 1085.1,784.7 1087.1,784.9 1089.0,785.0 1090.9,785.2 1092.9,785.3 1094.8,785.5 1096.7,785.6 1098.6,785.7 1100.5,785.8 1102.4,785.8 1104.4,785.7 1106.4,785.6 1108.4,785.4 1110.3,785.2 1112.3,785.0 1114.3,784.7 1116.4,784.5 1118.5,784.1 1120.7,783.7 1122.8,783.4 1124.9,783.1 1127.0,782.9 1129.2,782.8 1131.3,782.9 1133.4,783.2 1135.5,783.5 1137.6,783.9 1139.8,784.3 1141.9,784.6 1144.0,784.7 1146.0,784.7 1148.0,784.7 1150.0,784.5 1151.9,784.4 1153.9,784.2 1155.9,784.0 1157.9,783.8 1159.9,783.7 1161.8,783.5 1164.0,783.5 1166.1,783.4 1168.2,783.3 1170.3,783.3 1172.5,783.3 1174.6,783.4 1176.7,783.5 1178.8,783.8 1180.9,784.3 1183.1,784.8 1185.2,785.3 1187.3,785.8 1189.4,786.3 1191.6,786.5 1193.5,786.6 1195.5,786.6 1197.5,786.6 1199.5,786.4 1201.5,786.1 1203.4,785.8 1205.4,785.3 1207.4,784.7 1209.4,784.0 1211.4,783.3 1213.4,782.6 1215.3,782.1 1217.3,781.6 1219.3,781.1 1221.3,780.6 1223.3,780.2 1225.2,780.0 1227.2,779.8 1229.3,779.9 1231.4,780.1 1233.5,780.4 1235.5,780.9 1237.6,781.3 1239.7,781.9 1241.8,782.5 1243.9,783.2 1245.9,783.8 1248.0,784.3 1249.9,784.5 1251.8,784.4 1253.7,784.3 1255.6,784.3 1261.4,1022.2 1267.1,1021.0 1272.9,1019.9 1278.6,779.1 1280.5,779.2 1282.3,779.3 1284.1,779.4 1286.0,779.6 1287.8,779.8 1290.1,780.4 1292.3,781.1 1294.5,781.8 1296.7,782.4 1298.8,782.8 1300.9,783.2 1303.0,783.5 1305.1,783.7 1307.1,783.8 1309.2,783.8 1311.3,783.7 1313.4,783.4 1315.5,783.1 1317.5,782.8 1319.5,782.4 1321.5,782.0 1323.5,781.5 1325.5,781.0 1327.5,780.6 1329.4,780.3 1331.6,780.0 1333.7,779.9 1335.8,779.8 1337.9,779.7 1340.0,779.6 1342.2,779.5 1344.3,779.4 1346.4,779.2 1348.5,779.0 1350.7,778.9 1352.8,778.7 1354.9,778.5 1357.0,778.4 1359.2,778.3 1361.3,778.3 1363.4,778.4 1365.5,778.4 1367.6,778.5 1369.8,778.7 1371.9,778.9 1374.0,779.1 1376.2,779.5 1378.5,780.0 1380.7,780.6 1382.9,781.3 1384.9,782.0 1386.9,782.8 1388.9,783.7 1390.9,784.5 1392.8,785.2 1394.8,785.8 1396.9,786.3 1399.1,786.7 1401.2,787.1 1403.3,787.4 1405.4,787.6 1407.6,787.7 1409.7,787.7 1411.7,787.6 1413.6,787.2 1415.6,786.8 1417.6,786.3 1419.6,785.7 1421.6,785.0 1423.5,784.3 1425.5,783.5 1427.5,782.6 1429.5,781.7 1431.5,780.9 1433.4,780.3 1435.5,779.7 1437.6,779.3 1439.7,779.0 1441.8,778.8 1443.8,778.8 1445.9,778.9 1448.0,779.2 1450.1,779.7 1452.2,780.1 1454.2,780.6 1456.3,781.0 1458.4,781.5 1460.5,782.0 1462.6,782.5 1464.7,782.8 1466.6,783.0 1468.5,783.1 1470.4,783.2 1472.3,783.2 1474.2,783.3 1480.0,1080.6 1485.7,835.7 1491.5,835.7 1497.3,787.3 1499.1,787.8 1501.0,788.4 1502.9,788.9 1504.8,789.2 1507.0,789.3 1509.2,789.3 1511.5,789.1 1513.7,788.7 1515.9,788.1 1518.1,787.1 1520.4,786.0 1522.6,785.0 1524.8,784.0 1527.1,783.0 1529.3,782.1 1531.5,781.3 1533.7,780.8 1536.0,780.4 1538.2,780.2 1540.4,780.3 1542.3,780.7 1544.1,781.5 1546.0,782.4 1547.9,783.3 1549.7,784.1 1551.6,784.9 1553.4,785.8 1555.3,786.5 1557.0,787.0 1558.8,787.4 1560.5,787.7 1566.3,1132.3 1572.0,1133.0 1589.3,1131.9 1595.1,831.3 1600.8,788.8 1602.8,788.9 1604.8,789.0 1606.8,789.2 1608.9,789.5 1611.1,789.8 1613.2,790.2 1615.3,790.6 1617.4,791.0 1619.5,791.4 1621.6,791.7 1623.7,791.9 1625.6,792.0 1627.5,792.1 1629.5,792.1 1631.4,792.1 1633.4,792.0 1635.3,792.0 1637.2,791.9 1639.2,791.9 1641.1,791.9 1646.8,838.7 1658.3,837.8 1669.9,837.0 1675.6,790.5 1677.6,790.9 1679.6,791.2 1681.6,791.6 1683.7,791.9 1685.7,792.3 1687.7,792.5 1689.8,792.8 1691.8,793.0 1693.9,793.2 1696.0,793.4 1698.1,793.6 1700.2,793.8 1702.3,794.0 1704.4,794.2 1710.1,840.4 1721.6,842.1 1738.9,841.2 1744.6,794.2 1746.7,793.6 1748.8,793.0 1750.9,792.3 1753.0,791.8 1755.0,791.4 1757.0,791.1 1758.9,790.9 1760.8,790.7 1762.7,790.6 1764.7,790.6 1766.6,790.5 1768.5,790.5 1770.5,790.5 1772.5,790.6 1774.6,790.8 1776.6,791.0 1778.6,791.4 1780.6,791.9 1782.6,792.6 1784.7,793.3 1786.7,794.1 1788.7,794.7 1790.6,795.2 1792.6,795.6 1794.5,796.0 1796.4,796.4 1802.2,840.9 1825.2,839.9 1848.2,839.9 1854.0,794.7 1856.0,794.5 1858.0,794.3 1860.1,794.1 1862.1,793.9 1864.1,793.7 1866.2,793.6 1868.3,793.4 1870.4,793.1 1872.5,792.9 1874.6,792.7 1876.7,792.5 1878.8,792.4 1880.9,792.3 1883.0,792.2 1885.1,792.2 1887.3,792.3 1889.4,792.4 1891.5,792.5 1893.6,792.6 1895.7,792.8 1897.9,792.9 1900.0,793.0 1905.7,834.5 1923.0,836.5 1924.0,836.5" stroke="#00ff00"/>
</g>
<!-- tick labels -->
<text class="t" x="176.7" y="1472.3">0</text>
<text class="t" x="447.1" y="1472.3">50</text>
<text class="t" x="716.0" y="1472.3">100</text>
<rect class="m" x="720.07" y="1465.83" width="12.66" height="7.47"/>
<rect class="m" x="738.60" y="1465.83" width="12.14" height="7.47"/>
<text class="t" x="1003.95" y="1472.3">150</text>
<rect class="m" x="1008.02" y="1465.83" width="12.66" height="7.47"/>
<rect class="m" x="1026.55" y="1465.83" width="12.14" height="7.47"/>
<text class="t" x="1292.0" y="1472.3">200</text>
<text class="t" x="1578.95" y="1472.3">250</text>
<text class="t" x="1867.2" y="1472.3">300</text>
<text class="t" x="133.1" y="70.5">5</text>
<text class="t" x="133.1" y="219.1">4</text>
<text class="t" x="133.1" y="367.65">3</text>
<text class="t" x="133.1" y="516.0">2</text>
<text class="t" x="133.3" y="664.0">1</text>
<rect class="m" x="137.37" y="657.53" width="12.66" height="7.47"/>
<rect class="m" x="155.90" y="657.53" width="12.14" height="7.47"/>
<text class="t" x="133.1" y="813.4">0</text>
<text class="t" x="113.3" y="961.0">-1</text>
<rect class="m" x="139.51" y="954.53" width="12.66" height="7.47"/>
<rect class="m" x="158.04" y="954.53" width="12.14" height="7.47"/>
<text class="t" x="113.1" y="1109.0">-2</text>
<text class="t" x="113.1" y="1258.45">-3</text>
<text class="t" x="113.1" y="1406.0">-4</text>
<!-- axis labels -->
<text class="l" x="1060.4" y="1571.0" text-anchor="middle">Epoch</text>
<text class="yl" transform="translate(78.0,713.2) rotate(-90)" text-anchor="middle">Coordinate error(m)</text>
<!-- legend -->
<g shape-rendering="crispEdges">
<rect x="1249" y="94" width="624" height="263" fill="#262626"/>
<rect x="1253" y="98" width="617" height="255" fill="#fff"/>
<rect x="1266" y="142" width="160" height="4" fill="#ff0000"/>
<rect x="1266" y="224" width="160" height="3" fill="#0000ff"/>
<rect x="1266" y="305" width="160" height="4" fill="#00ff00"/>
</g>
<text class="g" x="1438.3" y="168.3">x direction error</text>
<text class="g" x="1438.3" y="248.8">y direction error</text>
<text class="g" x="1438.3" y="331.0">z direction error</text>
</svg>
</body>
</html>
